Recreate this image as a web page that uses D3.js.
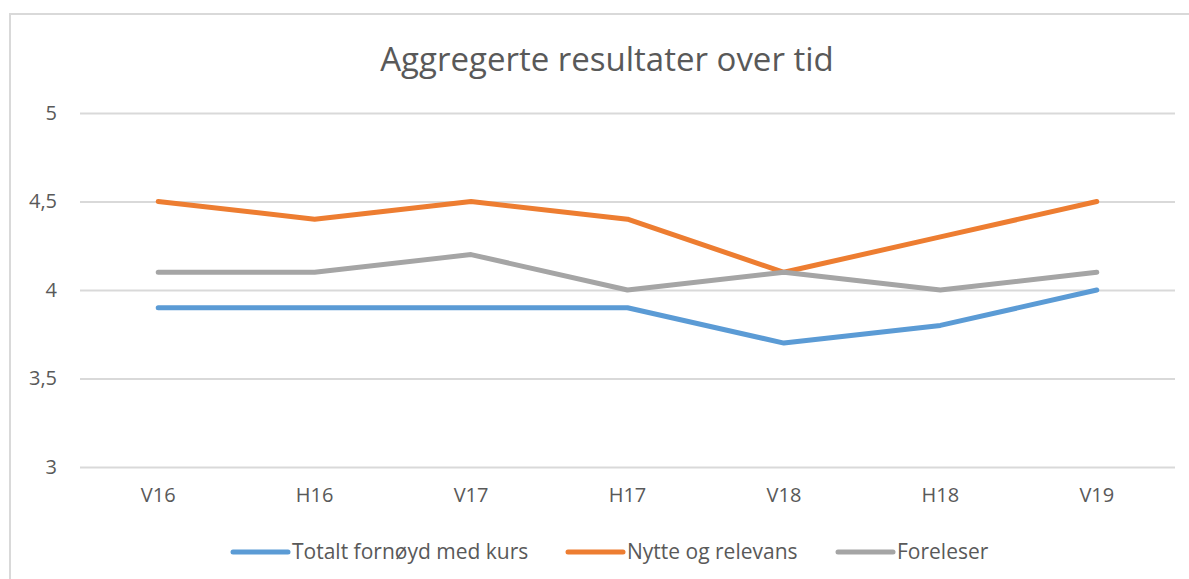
<!DOCTYPE html>
<html>
<head>
<meta charset="utf-8">
<script src="https://cdn.jsdelivr.net/npm/d3@7"></script>
<style>
  body { margin: 0; background: #fff; }
  text { font-family: "Open Sans", "Liberation Sans", sans-serif; fill: #595959; }
</style>
</head>
<body>
<svg id="chart" width="1189" height="579"></svg>
<script>
const categories = ["V16", "H16", "V17", "H17", "V18", "H18", "V19"];
const seriesNames = ["Totalt fornøyd med kurs", "Nytte og relevans", "Foreleser"];
const totaltValues = [3.9, 3.9, 3.9, 3.9, 3.7, 3.8, 4.0];
const nytteValues = [4.5, 4.4, 4.5, 4.4, 4.1, 4.3, 4.5];
const forelesValues = [4.1, 4.1, 4.2, 4.0, 4.1, 4.0, 4.1];
const yTicks = [3, 3.5, 4, 4.5, 5];
const colors = ["#5B9BD5", "#ED7D31", "#A5A5A5"];

const series = [totaltValues, nytteValues, forelesValues].map(function (vals, i) {
    return { name: seriesNames[i], color: colors[i], values: vals };
});

let svg = d3.select("#chart");

// chart frame (runs off the right and bottom edges like the original)
svg.append("rect")
    .attr("x", 10).attr("y", 14)
    .attr("width", 1200).attr("height", 600)
    .attr("fill", "#fff")
    .attr("stroke", "#d9d9d9")
    .attr("stroke-width", 2);

const plot = { left: 80, right: 1175, top: 113, bottom: 467 };

let x = d3.scaleBand()
    .domain(categories)
    .range([plot.left, plot.right]);

let y = d3.scaleLinear()
    .domain([3, 5])
    .range([plot.bottom, plot.top]);

svg.append("text")
    .attr("x", 607)
    .attr("y", 71)
    .attr("text-anchor", "middle")
    .style("font-size", "33px")
    .style("font-weight", 400)
    .text("Aggregerte resultater over tid");

// gridlines + y labels
let yAxis = svg.append("g")
    .call(d3.axisLeft(y)
        .tickValues(yTicks)
        .tickSize(-(plot.right - plot.left))
        .tickPadding(23)
        .tickFormat(function (d) { return String(d).replace(".", ","); }))
    .attr("transform", "translate(" + plot.left + ",0)");
yAxis.select(".domain").remove();
yAxis.selectAll("line").attr("stroke", "#d9d9d9").attr("stroke-width", 2);
yAxis.selectAll("text")
    .style("font-size", "20px")
    .style("font-family", "\"Open Sans\", sans-serif")
    .attr("fill", "#595959");

// x labels
let xAxis = svg.append("g")
    .attr("transform", "translate(0," + plot.bottom + ")")
    .call(d3.axisBottom(x).tickSize(0).tickPadding(21));
xAxis.select(".domain").remove();
xAxis.selectAll("text")
    .style("font-size", "20px")
    .style("font-family", "\"Open Sans\", sans-serif")
    .attr("fill", "#595959");

let line = d3.line()
    .x(function (d, i) { return x(categories[i]) + x.bandwidth() / 2; })
    .y(function (d) { return y(d); });

svg.selectAll(".series")
    .data(series)
    .enter()
    .append("path")
    .attr("class", "series")
    .attr("d", function (d) { return line(d.values); })
    .attr("fill", "none")
    .attr("stroke", function (d) { return d.color; })
    .attr("stroke-width", 5)
    .attr("stroke-linecap", "round")
    .attr("stroke-linejoin", "round");

// legend
const legendX = [233, 568, 838];
let legend = svg.selectAll(".legend")
    .data(series)
    .enter()
    .append("g")
    .attr("class", "legend")
    .attr("transform", function (d, i) { return "translate(" + legendX[i] + ",552)"; });

legend.append("line")
    .attr("x1", 0).attr("x2", 55)
    .attr("y1", 0).attr("y2", 0)
    .attr("stroke", function (d) { return d.color; })
    .attr("stroke-width", 5)
    .attr("stroke-linecap", "round");

legend.append("text")
    .attr("x", 59)
    .attr("y", 7)
    .style("font-size", "21px")
    .text(function (d) { return d.name; });
</script>
</body>
</html>
